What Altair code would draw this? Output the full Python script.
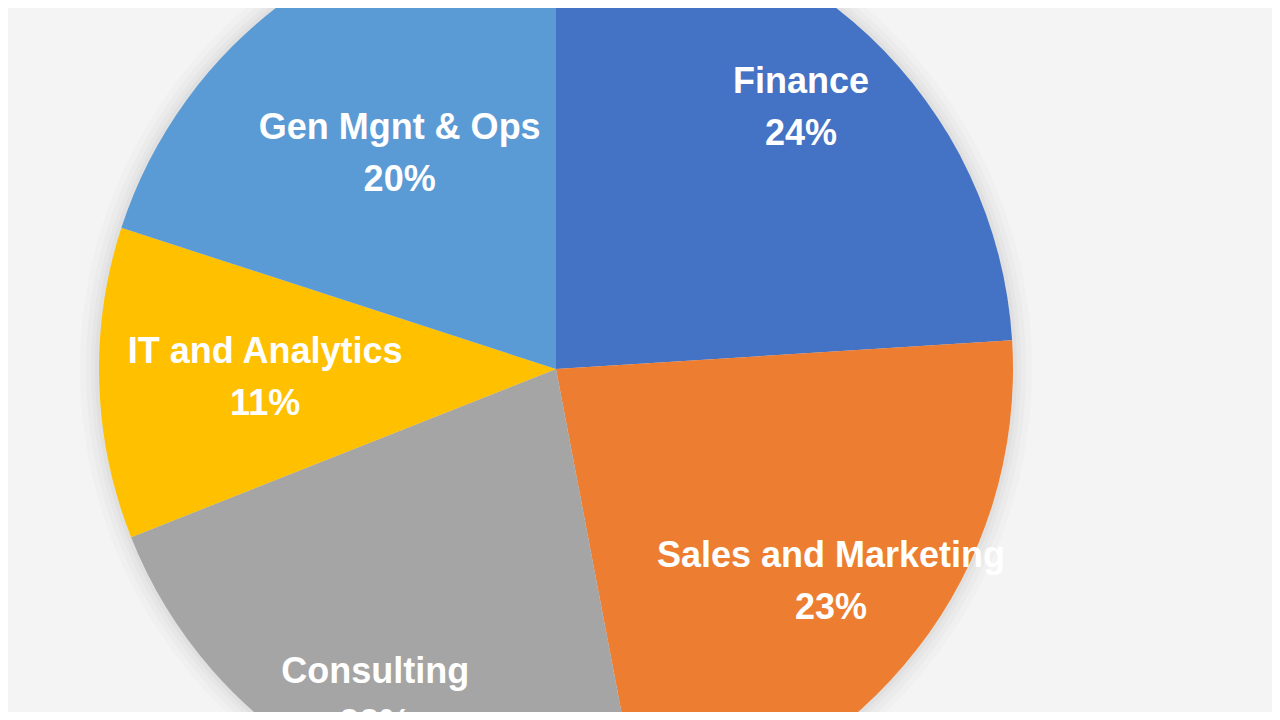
import altair as alt
import pandas as pd

categories = ["Finance", "Sales and Marketing", "Consulting", "IT and Analytics", "Gen Mgnt & Ops"]
shares = [24, 23, 22, 11, 20]
colors = ["#4472C4", "#ED7D31", "#A5A5A5", "#FFC000", "#5B9BD5"]

# label layout (distance of label centre from pie centre, px)
label_radius = {"Finance": 358, "Sales and Marketing": 348, "Consulting": 375,
                "IT and Analytics": 291, "Gen Mgnt & Ops": 266}

df = pd.DataFrame({
    "category": categories,
    "share": shares,
    "order": list(range(len(categories))),
})
df["pct"] = df["share"].astype(str) + "%"
df["lr"] = df["category"].map(label_radius)

CX, CY, R = 548, 361, 457
total = sum(shares)
theta_scale = alt.Scale(domain=[0, total], range=[0, 6.283185307179586])

shadow_df = pd.DataFrame({"k": [1]})
shadows = []
for r, op in [(476, 0.03), (470, 0.04), (465, 0.05), (461, 0.06)]:
    shadows.append(
        alt.Chart(shadow_df).mark_arc(
            theta=0, theta2=6.2832, outerRadius=r, color="#808080", opacity=op, clip=True
        ).encode(x=alt.value(CX), y=alt.value(CY))
    )

pie = alt.Chart(df).mark_arc(outerRadius=R, clip=True).encode(
    theta=alt.Theta("share:Q", stack=True, scale=theta_scale),
    order=alt.Order("order:O"),
    x=alt.value(CX),
    y=alt.value(CY),
    color=alt.Color("category:N", scale=alt.Scale(domain=categories, range=colors), legend=None),
)

lab = alt.Chart(df).transform_window(
    cum="sum(share)", sort=[alt.SortField("order")], frame=[None, 0]
).transform_calculate(
    mid="datum.cum - datum.share / 2"
).encode(
    theta=alt.Theta("mid:Q", stack=None, scale=theta_scale),
    radius=alt.Radius("lr:Q", scale=None),
    x=alt.value(CX),
    y=alt.value(CY),
)

font = "Liberation Sans"
name_txt = lab.mark_text(font=font, fontSize=36, fontWeight="bold", color="white",
                         baseline="middle", align="center", dy=-26, clip=True).encode(
    text="category:N",
)
pct_txt = lab.mark_text(font=font, fontSize=36, fontWeight="bold", color="white",
                        baseline="middle", align="center", dy=26, clip=True).encode(
    text="pct:N",
)

chart = alt.layer(*shadows, pie, name_txt, pct_txt).properties(
    width=1264, height=704, padding=0, autosize=alt.AutoSizeParams(type="none"),
    background="#f4f4f4",
).configure_view(stroke=None)

chart.save("out.html", embed_options={"renderer": "svg", "actions": False})
